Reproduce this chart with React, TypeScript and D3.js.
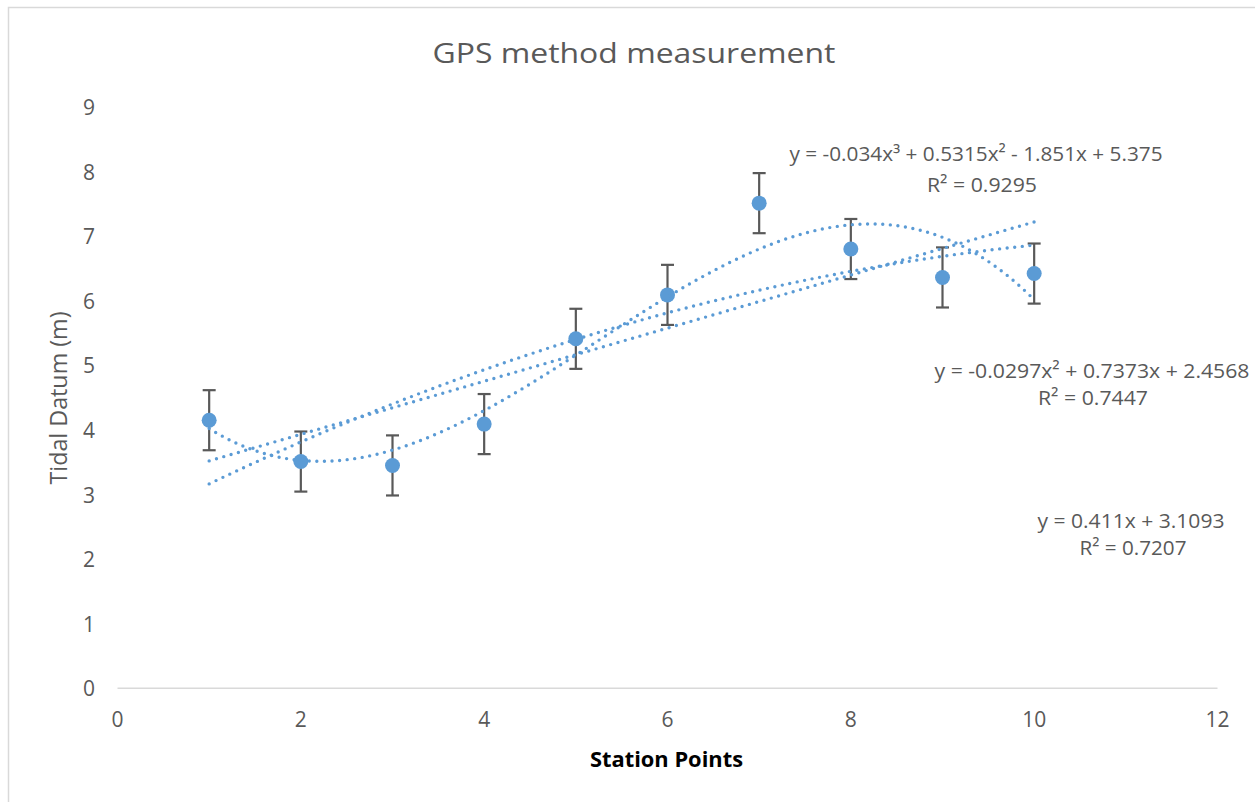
import React, { useEffect, useRef } from 'react';
import * as d3 from 'd3';

// station points and measured tidal datum (m)
const stations = [1, 2, 3, 4, 5, 6, 7, 8, 9, 10];
const tidalDatum = [4.15, 3.51, 3.45, 4.09, 5.41, 6.09, 7.51, 6.8, 6.36, 6.42];
const errorAmount = [0.465, 0.465, 0.465, 0.465, 0.465, 0.465, 0.465, 0.465, 0.465, 0.465];

const xTicks = [0, 2, 4, 6, 8, 10, 12];
const yTicks = [0, 1, 2, 3, 4, 5, 6, 7, 8, 9];

// trendline coefficients, constant term first
const cubicCoef = [5.375, -1.851, 0.5315, -0.034];
const quadCoef = [2.4568, 0.7373, -0.0297];
const linearCoef = [3.1093, 0.411];
const trendCoefs = [cubicCoef, quadCoef, linearCoef];

const trendEquations = [
    'y = -0.034x³ + 0.5315x² - 1.851x + 5.375',
    'y = -0.0297x² + 0.7373x + 2.4568',
    'y = 0.411x + 3.1093',
];
const trendR2 = ['R² = 0.9295', 'R² = 0.7447', 'R² = 0.7207'];

// where the equation boxes sit: [eq centre x, eq baseline, eq width, r2 centre x, r2 baseline, r2 width]
const labelLayout = [
    [976, 161, 373, 982, 191.5, 110],
    [1092, 378, 315, 1093, 405, 110],
    [1131, 528, 187, 1133, 555, 107],
];

const BLUE = '#5b9bd5';
const GREY = '#595959';
const FONT = '"Open Sans", sans-serif';

const polyval = (coef: number[], x: number) =>
    coef.reduce((acc, c, i) => acc + c * Math.pow(x, i), 0);

export default function App() {
    const ref = useRef<SVGSVGElement>(null);

    useEffect(() => {
        const svg = d3.select(ref.current);
        svg.selectAll('*').remove();

        const x = d3.scaleLinear().domain([0, 12]).range([117.5, 1217.5]);
        const y = d3.scaleLinear().domain([0, 9]).range([688.3, 106.9]);

        svg.append('rect')
            .attr('x', 8.5).attr('y', 7.5)
            .attr('width', 1260).attr('height', 810)
            .attr('fill', 'white')
            .attr('stroke', '#d9d9d9')
            .attr('stroke-width', 1.5);

        svg.append('text')
            .attr('x', 634).attr('y', 63)
            .attr('text-anchor', 'middle')
            .attr('fill', GREY)
            .style('font', `28px ${FONT}`)
            .attr('textLength', 403)
            .attr('lengthAdjust', 'spacingAndGlyphs')
            .text('GPS method measurement');

        // x axis line
        svg.append('line')
            .attr('x1', x(0)).attr('x2', x(12))
            .attr('y1', y(0)).attr('y2', y(0))
            .attr('stroke', '#d9d9d9')
            .attr('stroke-width', 1.5);

        svg.append('g')
            .selectAll('text')
            .data(yTicks)
            .join('text')
            .attr('x', 95)
            .attr('y', d => y(d) + 8)
            .attr('text-anchor', 'end')
            .attr('fill', GREY)
            .style('font', `21px ${FONT}`)
            .text(d => d);

        svg.append('g')
            .selectAll('text')
            .data(xTicks)
            .join('text')
            .attr('x', d => x(d))
            .attr('y', 727)
            .attr('text-anchor', 'middle')
            .attr('fill', GREY)
            .style('font', `21px ${FONT}`)
            .text(d => d);

        svg.append('text')
            .attr('transform', 'translate(67,398) rotate(-90)')
            .attr('text-anchor', 'middle')
            .attr('fill', GREY)
            .style('font', `23px ${FONT}`)
            .attr('textLength', 173)
            .attr('lengthAdjust', 'spacingAndGlyphs')
            .text('Tidal Datum (m)');

        svg.append('text')
            .attr('x', 666.5).attr('y', 766.5)
            .attr('text-anchor', 'middle')
            .attr('fill', '#000')
            .style('font', `bold 22px ${FONT}`)
            .attr('textLength', 153)
            .attr('lengthAdjust', 'spacingAndGlyphs')
            .text('Station Points');

        const points = stations.map((s, i) => ({ s, v: tidalDatum[i], e: errorAmount[i] }));

        // error bars
        const eb = svg.append('g')
            .attr('stroke', GREY)
            .attr('stroke-width', 2.2)
            .selectAll('g')
            .data(points)
            .join('g');
        eb.append('line')
            .attr('x1', d => x(d.s)).attr('x2', d => x(d.s))
            .attr('y1', d => y(d.v + d.e)).attr('y2', d => y(d.v - d.e));
        eb.append('line')
            .attr('x1', d => x(d.s) - 6.5).attr('x2', d => x(d.s) + 6.5)
            .attr('y1', d => y(d.v + d.e)).attr('y2', d => y(d.v + d.e));
        eb.append('line')
            .attr('x1', d => x(d.s) - 6.5).attr('x2', d => x(d.s) + 6.5)
            .attr('y1', d => y(d.v - d.e)).attr('y2', d => y(d.v - d.e));

        svg.append('g')
            .selectAll('circle')
            .data(points)
            .join('circle')
            .attr('cx', d => x(d.s))
            .attr('cy', d => y(d.v))
            .attr('r', 7.5)
            .attr('fill', BLUE);

        // dotted trendlines
        const xs = d3.range(stations[0], stations[stations.length - 1] + 0.001, 0.05);
        const line = d3.line<number[]>()
            .x(d => x(d[0]))
            .y(d => y(d[1]));

        svg.append('g')
            .selectAll('path')
            .data(trendCoefs)
            .join('path')
            .attr('d', coef => line(xs.map(v => [v, polyval(coef, v)])))
            .attr('fill', 'none')
            .attr('stroke', BLUE)
            .attr('stroke-width', 3.4)
            .attr('stroke-linecap', 'round')
            .attr('stroke-dasharray', '0 7.6');

        const labels = svg.append('g')
            .attr('fill', GREY)
            .attr('text-anchor', 'middle')
            .style('font', `20px ${FONT}`)
            .selectAll('g')
            .data(trendEquations)
            .join('g');
        labels.append('text')
            .attr('x', (d, i) => labelLayout[i][0])
            .attr('y', (d, i) => labelLayout[i][1])
            .attr('textLength', (d, i) => labelLayout[i][2])
            .attr('lengthAdjust', 'spacingAndGlyphs')
            .text(d => d);
        labels.append('text')
            .attr('x', (d, i) => labelLayout[i][3])
            .attr('y', (d, i) => labelLayout[i][4])
            .attr('textLength', (d, i) => labelLayout[i][5])
            .attr('lengthAdjust', 'spacingAndGlyphs')
            .text((d, i) => trendR2[i]);
    }, []);

    return (
        <svg
            ref={ref}
            width={1255}
            height={802}
            style={{ position: 'absolute', left: 0, top: 0, background: 'white' }}
        />
    );
}
